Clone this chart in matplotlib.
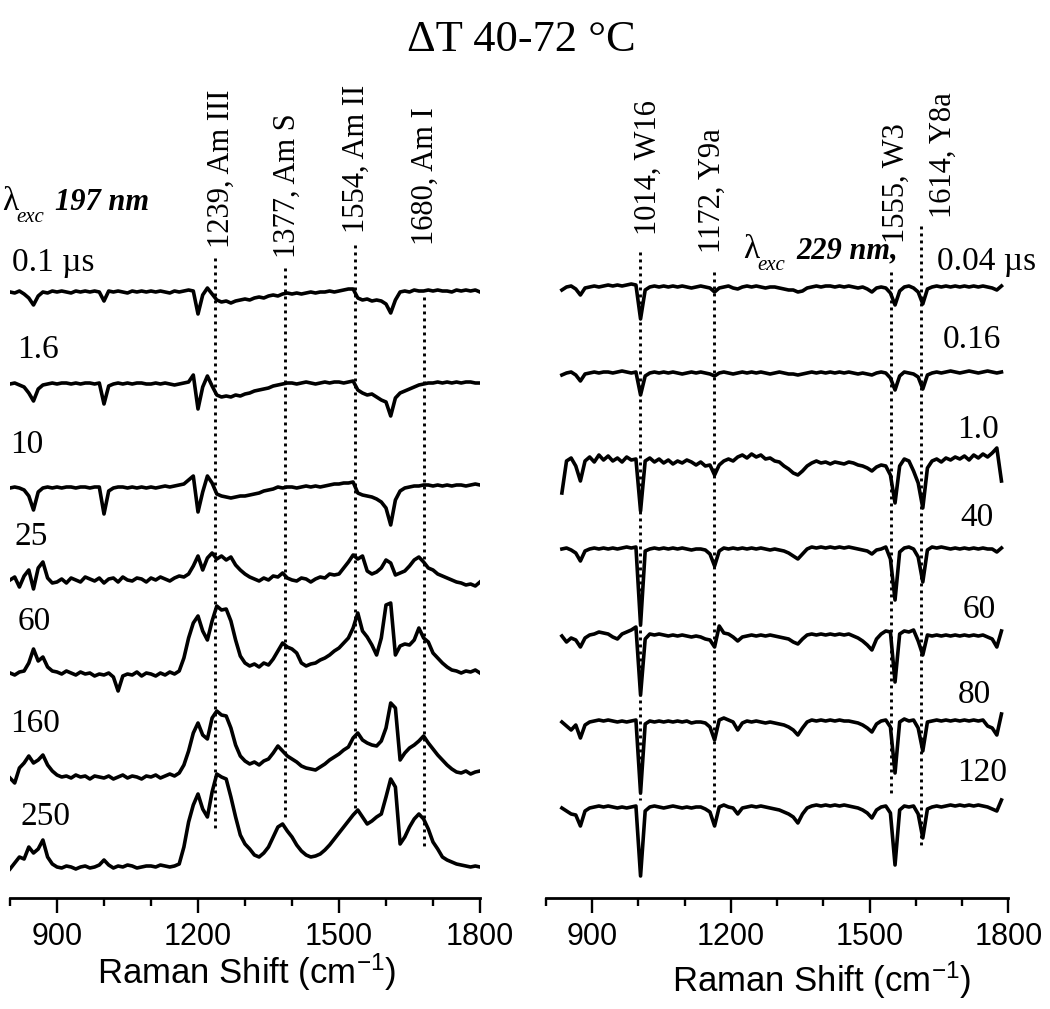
import numpy as np
import matplotlib
matplotlib.use("Agg")
import matplotlib.pyplot as plt

plt.rcParams['mathtext.fontset'] = 'custom'
plt.rcParams['mathtext.rm'] = 'Liberation Sans'
plt.rcParams['mathtext.it'] = 'Liberation Sans:italic'

# ---------------- data (difference spectra) ----------------
# left panel: 197 nm excitation, 800..1800 cm-1 every 10
shift_197 = np.arange(800, 1801, 10)

delay_197 = ['0.1 \u00b5s', '1.6', '10', '25', '60', '160', '250']

spec_197_01 = [0, -1, 1, -2, -6, -13, -4, 0, -1, 1,
               0, 1, 0, -1, 1, 0, 1, 0, 1, 0,
               -9, 1, 0, 1, 0, -1, 1, 0, 1, 0,
               1, 0, 1, 0, -1, 1, 0, 1, 2, 1,
               -22, -3, 4, -2, -8, -10, -9, -11, -9, -8,
               -7, -8, -6, -5, -6, -4, -3, -4, -2, -1,
               -2, -1, -2, -1, 0, -1, 0, 0, 1, 0,
               1, 2, 3, 3, -6, -8, -7, -9, -8, -9,
               -12, -21, -8, 0, 1, 0, 2, 1, 1, 2,
               1, 2, 1, 1, 0, 2, 1, 2, 1, 2,
               0]
spec_197_16 = [0, 1, -1, -3, -9, -17, -5, -1, 0, 1,
               0, 1, 1, 0, 1, 0, 1, 1, 0, 1,
               -20, -2, 0, 1, 0, 1, 0, 1, 1, 0,
               0, 1, 0, 1, 0, -1, 0, 1, 2, 9,
               -25, -3, 8, -2, -11, -13, -12, -13, -11, -12,
               -10, -9, -7, -6, -5, -4, -2, -1, 0, 1,
               1, 0, 1, 2, 1, 0, 1, 2, 1, 2,
               2, 1, 2, 3, -6, -9, -11, -10, -13, -16,
               -18, -32, -14, -9, -7, -5, -3, -1, 0, 1,
               1, 2, 1, 2, 1, 2, 1, 2, 2, 1,
               1]
spec_197_10 = [0, 1, 0, -2, -8, -22, -4, 0, 1, 0,
               1, 0, 1, 1, 0, 1, 1, 0, 1, 1,
               -26, -3, 0, 1, 1, 0, 1, 0, 1, 0,
               1, 0, 1, 2, 1, 2, 3, 4, 8, 12,
               -24, -4, 12, 5, -6, -8, -9, -10, -9, -8,
               -8, -7, -6, -5, -3, -2, -1, 1, 0, 1,
               1, 0, 1, 2, 1, 2, 1, 2, 3, 4,
               4, 5, 5, 6, -5, -7, -8, -9, -11, -14,
               -20, -37, -12, -3, 0, 1, 2, 2, 3, 3,
               2, 3, 2, 3, 2, 3, 3, 2, 3, 4,
               3]
spec_197_25 = [0, 3, -7, 4, 10, -9, 12, 18, 2, -3,
               -2, 1, -3, 2, 0, -2, 3, 1, -1, 2,
               -3, 1, 2, -2, 3, 0, -1, 2, 1, -2,
               2, 0, 3, 1, -1, 2, 4, 3, 6, 14,
               24, 10, 22, 27, 21, 24, 20, 23, 15, 10,
               6, 3, 1, -1, 2, 0, 4, 3, 7, 2,
               0, -1, 2, 1, -2, 1, 3, 2, 6, 5,
               6, 12, 18, 25, 21, 24, 9, 6, 8, 12,
               20, 17, 5, 7, 9, 14, 20, 23, 18, 12,
               10, 6, 4, 2, 0, -2, -3, -5, -4, -6,
               -2]
spec_197_60 = [0, -2, 1, 2, 10, 24, 12, 16, 6, 2,
               1, -1, 2, 0, -2, 1, -1, 0, -3, -1,
               -2, 0, -4, -18, -3, -1, -2, 1, -3, 0,
               -1, -3, 0, -2, 1, -1, 2, 15, 35, 50,
               57, 42, 33, 52, 67, 63, 64, 52, 33, 17,
               10, 7, 9, 6, 10, 8, 14, 22, 30, 26,
               24, 20, 10, 7, 9, 10, 13, 15, 18, 22,
               25, 30, 35, 45, 60, 42, 36, 28, 18, 35,
               68, 70, 18, 27, 29, 28, 33, 45, 35, 31,
               20, 15, 10, 6, 3, 2, 0, 2, 1, 3,
               0]
spec_197_160 = [-5, -10, 5, 10, 17, 10, 13, 18, 8, 2,
                -2, -4, -3, -5, -2, -4, -3, -6, -3, -4,
                -5, -3, -6, -4, -2, -5, -3, -4, -6, -3,
                -4, -2, -5, -3, -1, -3, 0, 8, 22, 40,
                50, 38, 34, 55, 62, 58, 57, 45, 28, 17,
                12, 9, 11, 8, 12, 14, 20, 27, 22, 17,
                14, 11, 7, 5, 4, 3, 6, 9, 13, 16,
                19, 23, 26, 35, 40, 33, 30, 28, 27, 32,
                45, 70, 65, 13, 20, 25, 28, 32, 37, 30,
                24, 18, 13, 8, 4, 1, 0, 2, -1, 1,
                2]
spec_197_250 = [-2, 4, 10, 8, 20, 14, 18, 27, 10, 3,
                0, -1, 1, 0, -2, 0, 1, -1, 0, 2,
                7, 2, -1, 1, 0, 2, 1, -1, 0, 1,
                1, 0, 2, 1, 0, 1, 3, 20, 45, 62,
                73, 58, 50, 75, 93, 90, 88, 70, 50, 32,
                23, 18, 12, 10, 14, 20, 30, 40, 43, 36,
                30, 22, 16, 12, 10, 11, 13, 17, 22, 28,
                34, 40, 46, 52, 57, 50, 43, 46, 50, 53,
                70, 88, 80, 23, 30, 40, 48, 53, 48, 38,
                25, 18, 10, 7, 5, 3, 2, 1, 0, 1,
                0]

# right panel: 229 nm excitation, 835..1785 cm-1 every 10
shift_229 = np.arange(835, 1786, 10)

delay_229 = ['0.04 \u00b5s', '0.16', '1.0', '40', '60', '80', '120']

spec_229_004 = [-3, 0, 1, -2, -8, -1, 0, 1, 0, 1,
                2, 1, 2, 1, 2, 3, 2, -32, -3, 0,
                1, 0, 1, 0, 1, 0, 1, 0, -1, 0,
                1, 0, -1, -5, -1, 0, 1, -1, -2, 0,
                1, 0, 1, 0, -1, 0, 0, -1, -2, -3,
                -3, -5, -4, -1, 0, 1, 0, 1, 1, 0,
                1, 0, 1, 0, -1, 0, -2, -5, -1, 0,
                -1, -6, -18, -4, 0, 1, -1, -5, -17, -2,
                0, 1, 0, 1, 0, 1, 0, 1, 0, 1,
                0, 1, 0, -1, -3, 1]
spec_229_016 = [-2, 0, 1, -2, -8, -1, 0, 1, 0, 1,
                1, 0, 1, 2, 1, 0, 1, -22, -3, 0,
                1, 0, 1, 0, 1, 0, -1, 0, 1, 0,
                1, 0, -1, -3, 0, 1, 0, -1, 0, 1,
                0, 1, 0, 1, 0, -1, 0, 1, 0, -1,
                -1, -2, -1, 0, 1, 0, 1, 0, 1, 0,
                1, 0, 1, 0, -1, 0, -1, -2, 0, 1,
                0, -5, -17, -3, 1, 0, -1, -4, -16, -2,
                0, 1, 0, 1, 2, 1, 0, 1, 2, 1,
                0, 1, 2, 1, 0, 1]
spec_229_10 = [-30, 2, 5, -3, -18, 2, 6, 1, 8, 3,
               7, 2, 5, 1, 6, 3, 4, -48, 2, 5,
               1, 4, 0, 3, -1, 2, 0, 3, 1, -2,
               1, -3, -2, -12, -2, 2, 4, 2, 6, 8,
               5, 9, 6, 8, 4, 5, 2, 1, -3, -6,
               -10, -12, -8, -3, 0, 2, 0, 1, -1, 1,
               0, -1, 1, 0, -2, -3, -5, -8, -4, -2,
               -3, -12, -40, -3, 4, 2, -8, -20, -45, -5,
               2, 4, 1, 5, 3, 6, 4, 7, 3, 8,
               5, 9, 6, 10, 15, -18]
spec_229_40 = [0, 1, -1, -4, -12, -2, 0, 1, 0, 1,
               0, 1, 0, 1, 2, 1, 2, -76, -2, 0,
               1, 0, 1, 0, 1, 0, 1, 0, -1, 0,
               0, -1, -5, -17, -2, 1, 0, 1, 0, 1,
               0, 1, 0, 1, 0, -1, 0, -1, -2, -4,
               -7, -10, -5, 0, 2, 1, 2, 1, 2, 1,
               2, 1, 2, 1, 0, -1, -2, -5, -1, 0,
               2, -10, -51, -3, 1, 2, 0, -8, -33, -1,
               2, 1, 2, 1, 0, 1, 0, 1, 0, 1,
               0, 1, 0, 0, -3, 1]
spec_229_60 = [0, -6, -2, -4, -11, -2, 1, 2, 4, 3,
               2, -1, -3, 2, 4, 6, 9, -59, -3, 2,
               1, 2, 1, 0, 1, 0, 1, 0, -1, 0,
               -1, -3, -4, -11, 10, 3, 2, -1, -5, -1,
               0, 1, 0, 1, 0, 1, 0, -1, -2, -3,
               -6, -8, -3, 1, 2, 1, 2, 1, 2, 1,
               2, 1, 2, 0, -2, -5, -9, -14, -3, 2,
               5, 4, -46, 2, 5, 4, 6, -5, -19, 1,
               0, 1, 0, 1, 0, 1, 0, 1, 0, 1,
               0, 1, -1, -3, -11, 5]
spec_229_80 = [0, -4, -8, -3, -16, -3, 0, 1, 2, 1,
               2, 1, 0, 1, 0, 1, 2, -71, -2, 1,
               0, 1, 0, 1, 0, 1, 0, 1, -1, 0,
               0, -1, -5, -18, 2, 4, 2, 0, -8, -1,
               1, 0, 1, 0, -1, 0, -1, -2, -3, -5,
               -8, -13, -6, 0, 2, 1, 2, 1, 2, 1,
               2, 1, 1, 0, -1, -3, -6, -10, -2, 1,
               2, -5, -51, 0, 3, 1, 2, -6, -29, 0,
               1, 2, 1, 2, 1, 2, 1, 2, 1, 2,
               1, 2, -4, -6, -13, 8]
spec_229_120 = [0, -3, -6, -7, -18, -3, 0, 1, 2, 1,
                2, 1, 0, 1, 0, 1, 2, -68, -3, 1,
                2, 1, 0, 1, 2, 1, 0, 1, 0, 1,
                1, -1, -4, -18, 1, 3, 1, 0, -6, 0,
                1, 2, 1, 2, 1, 0, -1, -2, -4, -6,
                -9, -15, -6, 0, 2, 3, 2, 3, 2, 3,
                2, 3, 2, 1, 0, -2, -5, -10, -2, 1,
                2, -5, -57, -2, 2, 1, 2, -6, -30, -1,
                1, 2, 1, 2, 3, 2, 3, 2, 3, 2,
                3, 2, 1, -1, -3, 8]

bands_197 = ['1239, Am III', '1377, Am S', '1554, Am II', '1680, Am I']
bands_229 = ['1014, W16', '1172, Y9a', '1555, W3', '1614, Y8a']

spectra_197 = [spec_197_01, spec_197_16, spec_197_10, spec_197_25,
               spec_197_60, spec_197_160, spec_197_250]
spectra_229 = [spec_229_004, spec_229_016, spec_229_10, spec_229_40,
               spec_229_60, spec_229_80, spec_229_120]

# ---------------- layout (pixels of the 1050 x 1009 picture) ----------------
W, H = 1050, 1009
AX_BOTTOM = 898   # y pixel of the x axis line
AX_TOP = 60

def fx(px):
    return px / W

def fy(py):
    return 1 - py / H

serif = 'Liberation Serif'
sans = 'Liberation Sans'

fig = plt.figure(figsize=(W / 100, H / 100), dpi=100)

def make_axis(x0_px, x1_px):
    ax = fig.add_axes([fx(x0_px), fy(AX_BOTTOM), (x1_px - x0_px) / W, (AX_BOTTOM - AX_TOP) / H])
    ax.set_xlim(800, 1800)
    ax.set_ylim(0, AX_BOTTOM - AX_TOP)
    for side in ['left', 'right', 'top']:
        ax.spines[side].set_visible(False)
    ax.spines['bottom'].set_linewidth(2.0)
    ax.set_yticks([])
    ax.set_xticks([900, 1200, 1500, 1800])
    ax.set_xticks(np.arange(800, 1801, 100), minor=True)
    ax.tick_params(axis='x', which='major', length=11, width=1.7, pad=6, labelsize=22)
    ax.tick_params(axis='x', which='minor', length=5.5, width=1.7)
    for lab in ax.get_xticklabels():
        lab.set_fontfamily(sans)
    ax.patch.set_visible(False)
    return ax

ax1 = make_axis(10, 480)
ax2 = make_axis(545.7, 1008.4)

base_197 = [292, 384, 488, 580, 673, 773, 867]
base_229 = [287, 373, 463, 549, 636, 722, 808]

for spec, b in zip(spectra_197, base_197):
    ax1.plot(shift_197, AX_BOTTOM - b + np.array(spec), color='black', lw=2.6, solid_joinstyle='round')
for spec, b in zip(spectra_229, base_229):
    ax2.plot(shift_229, AX_BOTTOM - b + np.array(spec), color='black', lw=2.6, solid_joinstyle='round')

# dotted band markers: (x position in cm-1, top pixel, bottom pixel)
marks_197 = [(1236, 258, 828), (1385, 268, 818), (1534, 245, 808), (1681, 297, 850)]
marks_229 = [(1004, 252, 800), (1164, 272, 808), (1546, 272, 795), (1611, 226, 848)]
for ax, marks in [(ax1, marks_197), (ax2, marks_229)]:
    for xm, ytop, ybot in marks:
        ax.plot([xm, xm], [AX_BOTTOM - ytop, AX_BOTTOM - ybot], color='black',
                lw=2.1, ls=(0, (1.0, 1.4)))

# band labels (rotated)
label_pos_197 = [(221, 248), (287, 258), (356, 233), (425, 245)]
label_pos_229 = [(648, 235), (712, 253), (896, 243), (943, 218)]
for names, pos in [(bands_197, label_pos_197), (bands_229, label_pos_229)]:
    for s, (px, py) in zip(names, pos):
        fig.text(fx(px), fy(py), s, rotation=90, ha='center', va='bottom',
                 fontsize=22, family=serif)

# delay labels
delay_pos_197 = [(12, 263), (17, 350), (10, 445), (15, 537), (18, 622), (10, 724), (20, 817)]
for s, (px, py) in zip(delay_197, delay_pos_197):
    fig.text(fx(px), fy(py), s, ha='left', va='center', fontsize=24, family=serif)
delay_pos_229 = [(937, 262), (943, 340), (957, 430), (960, 518), (963, 610), (958, 695), (957, 773)]
for s, (px, py) in zip(delay_229, delay_pos_229):
    fig.text(fx(px), fy(py), s, ha='left', va='center', fontsize=24, family=serif)

# excitation wavelength labels
def lambda_label(px, py, wl):
    fig.text(fx(px), fy(py), '\u03bb', ha='left', va='baseline', fontsize=24, family=serif)
    fig.text(fx(px + 14), fy(py + 12), 'exc', ha='left', va='baseline', fontsize=15,
             family=serif, style='italic')
    fig.text(fx(px + 53), fy(py), wl, ha='left', va='baseline', fontsize=22,
             family=serif, style='italic', weight='bold')

lambda_label(2, 210, '197 nm')
lambda_label(743, 258, '229 nm,')

# title and axis labels
fig.text(fx(521), fy(40), '\u0394T 40-72 \u00b0C', ha='center', va='center', fontsize=32, family=serif)
fig.text(fx(247), fy(972), 'Raman Shift (cm$^{-1}$)', ha='center', va='center', fontsize=25, family=sans)
fig.text(fx(822), fy(980), 'Raman Shift (cm$^{-1}$)', ha='center', va='center', fontsize=25, family=sans)

fig.savefig('out.png', dpi=100)
